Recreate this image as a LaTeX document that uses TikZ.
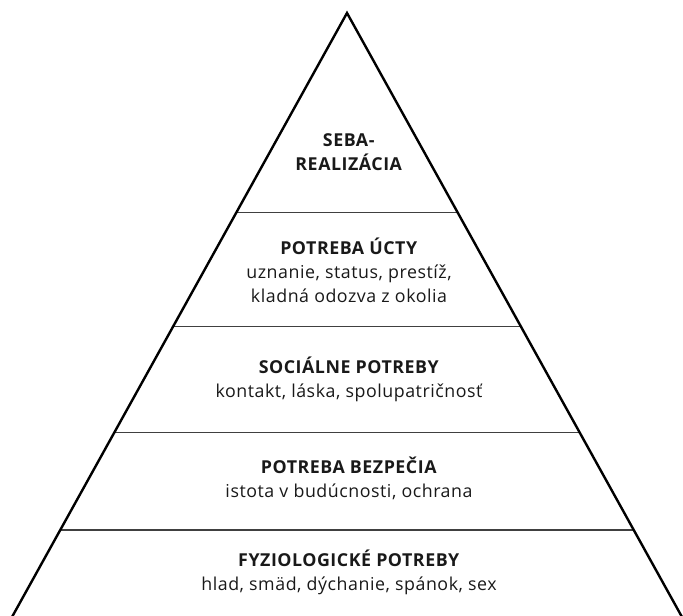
\documentclass[tikz,border=0pt]{standalone}
\usepackage{fontspec}
\setmainfont{Open Sans}[LetterSpace=3]
\usetikzlibrary{calc}
\begin{document}
\begin{tikzpicture}[x=1pt,y=1pt,
  side/.style={line width=2.4pt,black,line join=miter},
  level/.style={line width=1.4pt,black!75},
  lbl/.style={align=center,font=\fontsize{17.8}{24}\selectfont,inner sep=0pt,text=black!90}]
\useasboundingbox (0,0) rectangle (683,616);
\coordinate (A) at (347,603);
\coordinate (L) at (12,-1);
\coordinate (R) at (682,-1);
\foreach \t/\n in {0.330/a,0.519/b,0.695/c,0.856/d}{
  \coordinate (l\n) at ($(A)!\t!(L)$);
  \coordinate (r\n) at ($(A)!\t!(R)$);
}
\draw[level] (la) -- (ra);
\draw[level] (lb) -- (rb);
\draw[level] (lc) -- (rc);
\draw[level] (ld) -- (rd);
\draw[side] (L) -- (A) -- (R);
\node[lbl] (n1) at (349,464) {\textbf{SEBA-}\\\textbf{REALIZÁCIA}};
\node[lbl] (n2) at (349,346) {\textbf{POTREBA ÚCTY}\\uznanie, status, prestíž,\\kladná odozva z okolia};
\node[lbl] (n3) at (349,237) {\textbf{SOCIÁLNE POTREBY}\\kontakt, láska, spolupatričnosť};
\node[lbl] (n4) at (349,138) {\textbf{POTREBA BEZPEČIA}\\istota v budúcnosti, ochrana};
\node[lbl] (n5) at (349,44) {\textbf{FYZIOLOGICKÉ POTREBY}\\hlad, smäd, dýchanie, spánok, sex};
\end{tikzpicture}
\end{document}
